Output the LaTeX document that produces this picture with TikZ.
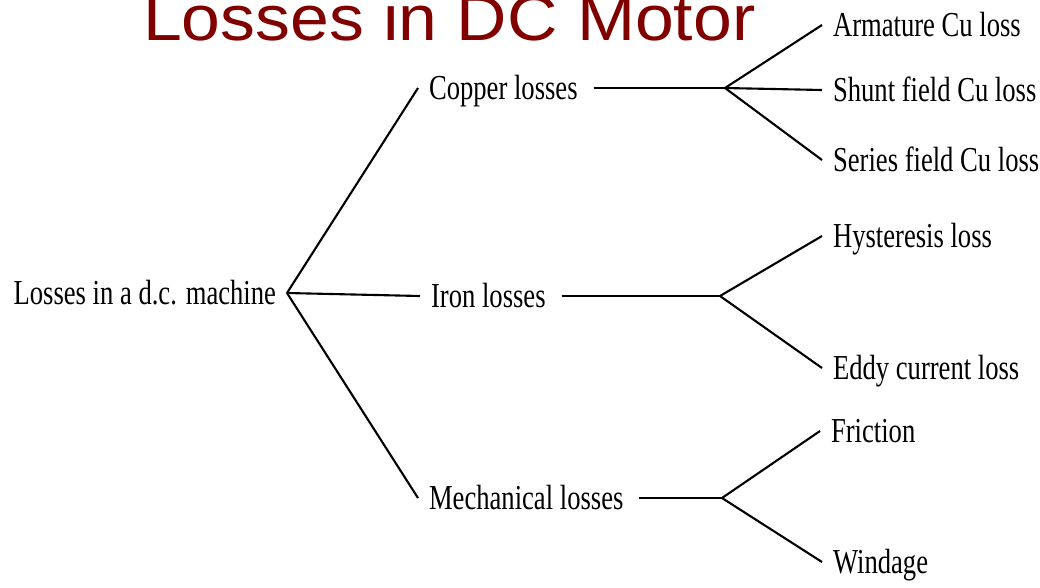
\documentclass[tikz,border=0pt]{standalone}
\usepackage{fontspec}
\newfontfamily\treefont[FakeStretch=0.76]{Liberation Serif}
\newfontfamily\titlefont[FakeStretch=1.09]{Liberation Sans}
\definecolor{titlered}{RGB}{128,0,0}

\begin{document}
\begin{tikzpicture}[
                    x = 0.025cm, y = -0.025cm,
                    line width = 1.5pt,
                    kind/.style = {font = \treefont\fontsize{24.9}{28}\selectfont,
                                   text height = 16.4pt, text depth = 0pt,
                                   inner xsep = 0.25cm, inner ysep = 0pt, anchor = west},
                    title/.style = {font = \titlefont\fontsize{45.5}{50}\selectfont,
                                    text = titlered, inner sep = 0, anchor = base west}]
                \useasboundingbox (0,0) rectangle (1040,587);
                \clip (0,0) rectangle (1040,587);
                \node[title]                   (head) at (142,40)  {Losses in DC Motor};
                \node[kind, anchor = east]     (root) at (287,293) {Losses in a d.c. machine};
                \node[kind]                    (cu)   at (418,88)  {Copper losses};
                \node[kind]                    (fe)   at (420,296) {Iron losses};
                \node[kind]                    (mech) at (418,498) {Mechanical losses};
                \node[kind]                    (arm)  at (822,25)  {Armature Cu loss};
                \node[kind]                    (shu)  at (822,90)  {Shunt field Cu loss};
                \node[kind]                    (ser)  at (822,160) {Series field Cu loss};
                \node[kind]                    (hys)  at (822,236) {Hysteresis loss};
                \node[kind]                    (edd)  at (822,368) {Eddy current loss};
                \node[kind]                    (fri)  at (820,431) {Friction};
                \node[kind]                    (win)  at (822,562) {Windage};
                \coordinate (cuj)   at (725,88);
                \coordinate (fej)   at (720,296);
                \coordinate (mechj) at (722,498);
                \path[draw]
                (root.east) edge                        (cu.west)
                (root.east) edge                        (fe.west)
                (root.east) edge                        (mech.west)
                (cu.east)   edge [shorten <= 0.125cm]   (cuj)
                (fe.east)   edge [shorten <= 0.125cm]   (fej)
                (mech.east) edge [shorten <= 0.125cm]   (mechj)
                (cuj)       edge                        (arm.west)
                (cuj)       edge                        (shu.west)
                (cuj)       edge                        (ser.west)
                (fej)       edge                        (hys.west)
                (fej)       edge                        (edd.west)
                (mechj)     edge                        (fri.west)
                (mechj)     edge                        (win.west)
                ;
\end{tikzpicture}
\end{document}
